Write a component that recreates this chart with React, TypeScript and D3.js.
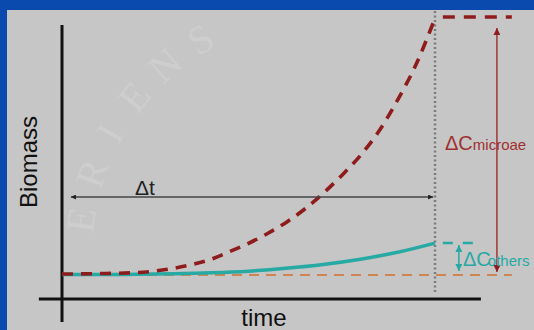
import React from "react";
import * as d3 from "d3";

// ---- data ----
const microTime = [0, 1, 2, 3, 3.5, 4, 4.5, 5, 5.5, 6, 6.5, 7, 7.5, 8, 8.5, 9, 9.5, 9.95];
const microBiomass = [1.04, 1.06, 1.1, 1.28, 1.44, 1.66, 1.98, 2.32, 2.72, 3.18, 3.74, 4.4, 5.15, 5.98, 7.0, 8.3, 9.8, 11.5];
const othersTime = [0, 1, 2, 3, 4, 5, 6, 7, 8, 9, 10];
const othersBiomass = [1.02, 1.02, 1.03, 1.05, 1.09, 1.16, 1.28, 1.44, 1.66, 1.95, 2.33];
const baselineBiomass = 1.0;
const baselineSpan = [0, 12.06];
const microFinal = 11.75;
const microFinalSpan = [10.21, 12.06];
const othersFinal = 2.33;
const othersFinalSpan = [10.21, 11.05];
const endTime = 10;
const deltaTSpan = [0.24, 9.95];
const deltaTLevel = 4.25;
const microArrowTime = 11.66;
const microArrowSpan = [11.29, 1.12];
const othersArrowTime = 10.64;
const othersArrowSpan = [2.25, 1.17];
const xAxisSpan = [-0.62, 11.23];
const yAxisSpan = [-0.96, 11.42];
const xLabel = "time";
const yLabel = "Biomass";
const deltaTLabel = "Δt";
const microLabel = ["ΔC", "microae"];
const othersLabel = ["ΔC", "others"];
const watermarkLetters = ["E", "R", "I", "E", "N", "S"];
const watermarkAngles = [188, 199, 209, 219, 229, 239];

const W = 534;
const H = 330;

export default function App() {
  const x = d3.scaleLinear().domain([0, 10]).range([62, 435]);
  const y = d3.scaleLinear().domain([0, 12]).range([299, 11]);

  const line = d3
    .line<[number, number]>()
    .x((d) => x(d[0]))
    .y((d) => y(d[1]))
    .curve(d3.curveMonotoneX);

  const microPath = line(microTime.map((t, i) => [t, microBiomass[i]] as [number, number])) || "";
  const othersPath = line(othersTime.map((t, i) => [t, othersBiomass[i]] as [number, number])) || "";

  const red = "#8e1c1c";
  const redThin = "#a33434";
  const teal = "#27a9a4";
  const orange = "#cf8552";
  const font = "'Liberation Sans', Arial, sans-serif";

  // watermark letters on a seal arc
  const cx = 330, cy = 255, r = 238;

  return (
    <svg
      width={W}
      height={H}
      viewBox={`0 0 ${W} ${H}`}
      style={{ position: "fixed", left: 0, top: 0, display: "block" }}
    >
      <defs>
        <marker id="ahBlack" viewBox="0 0 10 10" refX="10" refY="5" markerWidth="7" markerHeight="5" markerUnits="userSpaceOnUse" orient="auto-start-reverse">
          <path d="M0,0 L10,5 L0,10 z" fill="#222" />
        </marker>
        <marker id="ahRed" viewBox="0 0 10 10" refX="10" refY="5" markerWidth="9" markerHeight="7" markerUnits="userSpaceOnUse" orient="auto-start-reverse">
          <path d="M0,0 L10,5 L0,10 z" fill="#8e1c1c" />
        </marker>
        <marker id="ahTeal" viewBox="0 0 10 10" refX="10" refY="5" markerWidth="7" markerHeight="7" markerUnits="userSpaceOnUse" orient="auto-start-reverse">
          <path d="M0,0 L10,5 L0,10 z" fill="#27a9a4" />
        </marker>
      </defs>

      <rect x={0} y={0} width={W} height={H} fill="#0a49ad" />
      <rect x={7} y={10} width={W - 7} height={H - 10} fill="#c6c6c6" />

      {/* watermark */}
      {watermarkLetters.map((ch, i) => {
        const a = (watermarkAngles[i] * Math.PI) / 180;
        const px = cx + r * Math.cos(a);
        const py = cy + r * Math.sin(a);
        return (
          <text
            key={i}
            transform={`translate(${px},${py}) rotate(${watermarkAngles[i] + 90})`}
            textAnchor="middle"
            fontFamily="'Liberation Serif', 'DejaVu Serif', serif"
            fontSize={40}
            fill="#cecece"
          >
            {ch}
          </text>
        );
      })}

      {/* axes */}
      <line x1={x(0)} x2={x(0)} y1={y(yAxisSpan[0])} y2={y(yAxisSpan[1])} stroke="#111" strokeWidth={3} />
      <line x1={x(xAxisSpan[0])} x2={x(xAxisSpan[1])} y1={y(0)} y2={y(0)} stroke="#111" strokeWidth={3} />

      {/* end-time dotted line */}
      <line x1={x(endTime)} x2={x(endTime)} y1={11} y2={293} stroke="#7c7c7c" strokeWidth={2.5} strokeDasharray="2,2.5" />

      {/* baseline */}
      <line x1={x(baselineSpan[0])} x2={x(baselineSpan[1])} y1={y(baselineBiomass)} y2={y(baselineBiomass)} stroke={orange} strokeWidth={2.2} strokeDasharray="10,7" />

      {/* others curve */}
      <path d={othersPath} fill="none" stroke={teal} strokeWidth={3.5} />

      {/* microalgae curve */}
      <path d={microPath} fill="none" stroke={red} strokeWidth={3.6} strokeDasharray="11,8" />

      {/* final level lines */}
      <line x1={x(microFinalSpan[0])} x2={x(microFinalSpan[1])} y1={y(microFinal)} y2={y(microFinal)} stroke={red} strokeWidth={3.6} strokeDasharray="12,9" />
      <line x1={x(othersFinalSpan[0])} x2={x(othersFinalSpan[1])} y1={y(othersFinal)} y2={y(othersFinal)} stroke={teal} strokeWidth={2.5} strokeDasharray="10,10" />

      {/* delta t arrow */}
      <line x1={x(deltaTSpan[0])} x2={x(deltaTSpan[1])} y1={y(deltaTLevel)} y2={y(deltaTLevel)} stroke="#444" strokeWidth={1.5} markerStart="url(#ahBlack)" markerEnd="url(#ahBlack)" />
      <text x={135} y={195} fontFamily={font} fontSize={21} fill="#222">{deltaTLabel}</text>

      {/* microalgae delta arrow */}
      <line x1={x(microArrowTime)} x2={x(microArrowTime)} y1={y(microArrowSpan[0])} y2={y(microArrowSpan[1])} stroke={redThin} strokeWidth={1.5} markerStart="url(#ahRed)" markerEnd="url(#ahRed)" />
      <text x={445} y={150} fontFamily={font} fill="#a0302f">
        <tspan fontSize={20}>{microLabel[0]}</tspan>
        <tspan fontSize={15}>{microLabel[1]}</tspan>
      </text>

      {/* others delta arrow */}
      <line x1={x(othersArrowTime)} x2={x(othersArrowTime)} y1={y(othersArrowSpan[0])} y2={y(othersArrowSpan[1])} stroke={teal} strokeWidth={1.5} markerStart="url(#ahTeal)" markerEnd="url(#ahTeal)" />
      <text x={463} y={266} fontFamily={font} fill={teal}>
        <tspan fontSize={20}>{othersLabel[0]}</tspan>
        <tspan fontSize={15} dx={-3}>{othersLabel[1]}</tspan>
      </text>

      {/* axis labels */}
      <text x={264} y={326} textAnchor="middle" fontFamily={font} fontSize={24} fill="#111">{xLabel}</text>
      <text transform="translate(37,162) rotate(-90)" textAnchor="middle" fontFamily={font} fontSize={24} fill="#111">{yLabel}</text>
    </svg>
  );
}
